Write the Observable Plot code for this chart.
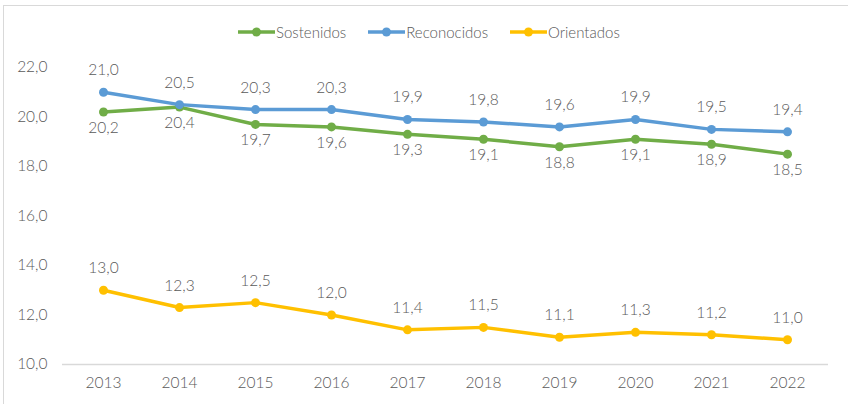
<!DOCTYPE html>
<html>
<head>
<meta charset="utf-8">
<script src="https://cdn.jsdelivr.net/npm/d3@7"></script>
<script src="https://cdn.jsdelivr.net/npm/@observablehq/plot@0.6"></script>
<style>
  html, body { margin: 0; padding: 0; background: #fff; width: 848px; height: 404px; overflow: hidden; position: relative; font-family: Lato, "Open Sans", sans-serif; font-weight: 300; }
  #frame { position: absolute; left: 3px; top: 5px; width: 860px; height: 420px; border: 1px solid #d9d9d9; box-sizing: border-box; pointer-events: none; }
  #legend { position: absolute; left: 238px; top: 22px; height: 20px; display: flex; align-items: center; font-size: 15px; color: #595959; }
  .item { display: flex; align-items: center; margin-right: 22px; }
  .item svg { margin-right: 1px; }
  #chart { position: absolute; left: 0; top: 50px; }
  #chart text { font-weight: 300; }
</style>
</head>
<body>
<div id="frame"></div>
<div id="legend"></div>
<div id="chart"></div>
<script>
const years = [2013, 2014, 2015, 2016, 2017, 2018, 2019, 2020, 2021, 2022];
const seriesNames = ["Sostenidos", "Reconocidos", "Orientados"];
const seriesColors = ["#70AD47", "#5B9BD5", "#FFC000"];
const sostenidos = [20.2, 20.4, 19.7, 19.6, 19.3, 19.1, 18.8, 19.1, 18.9, 18.5];
const reconocidos = [21.0, 20.5, 20.3, 20.3, 19.9, 19.8, 19.6, 19.9, 19.5, 19.4];
const orientados = [13.0, 12.3, 12.5, 12.0, 11.4, 11.5, 11.1, 11.3, 11.2, 11.0];
const yTicks = [10, 12, 14, 16, 18, 20, 22];

const fmt = d => d.toFixed(1).replace(".", ",");
const valuesBySeries = [sostenidos, reconocidos, orientados];
const labelPos = ["below", "above", "above"];
const data = [];
seriesNames.forEach((s, i) => {
  years.forEach((y, j) => data.push({series: s, year: y, value: valuesBySeries[i][j], pos: labelPos[i]}));
});

// legend
const legend = document.getElementById("legend");
seriesNames.forEach((s, i) => {
  const item = document.createElement("div");
  item.className = "item";
  item.innerHTML = `<svg width="37" height="12"><line x1="0" y1="6" x2="37" y2="6" stroke="${seriesColors[i]}" stroke-width="3.5"/><circle cx="18.5" cy="6" r="4.5" fill="${seriesColors[i]}"/></svg><span>${s}</span>`;
  legend.appendChild(item);
});

const textColor = "#595959";
const chart = Plot.plot({
  width: 848,
  height: 354,
  marginLeft: 62,
  marginRight: 20,
  marginTop: 17,
  marginBottom: 40,
  style: {fontFamily: "Lato, 'Open Sans', sans-serif", fontSize: "15.5px", color: textColor, background: "transparent"},
  x: {type: "point", domain: years, padding: 0.5, align: 0.5, label: null},
  y: {domain: [10, 22], ticks: yTicks, label: null},
  color: {domain: seriesNames, range: seriesColors},
  marks: [
    Plot.ruleY([10], {stroke: "#d9d9d9", strokeWidth: 1.5}),
    Plot.axisY({ticks: yTicks, tickFormat: fmt, tickSize: 0, tickPadding: 15, label: null, fill: textColor}),
    Plot.axisX({tickSize: 0, tickPadding: 12, label: null, tickFormat: d => String(d), fill: textColor}),
    Plot.line(data, {x: "year", y: "value", z: "series", stroke: "series", strokeWidth: 3.5}),
    Plot.dot(data, {x: "year", y: "value", fill: "series", r: 4.5}),
    Plot.text(data.filter(d => d.pos === "above"), {x: "year", y: "value", text: d => fmt(d.value), dy: -22, fill: textColor}),
    Plot.text(data.filter(d => d.pos === "below"), {x: "year", y: "value", text: d => fmt(d.value), dy: 16, fill: textColor})
  ]
});
document.getElementById("chart").appendChild(chart);
</script>
</body>
</html>
